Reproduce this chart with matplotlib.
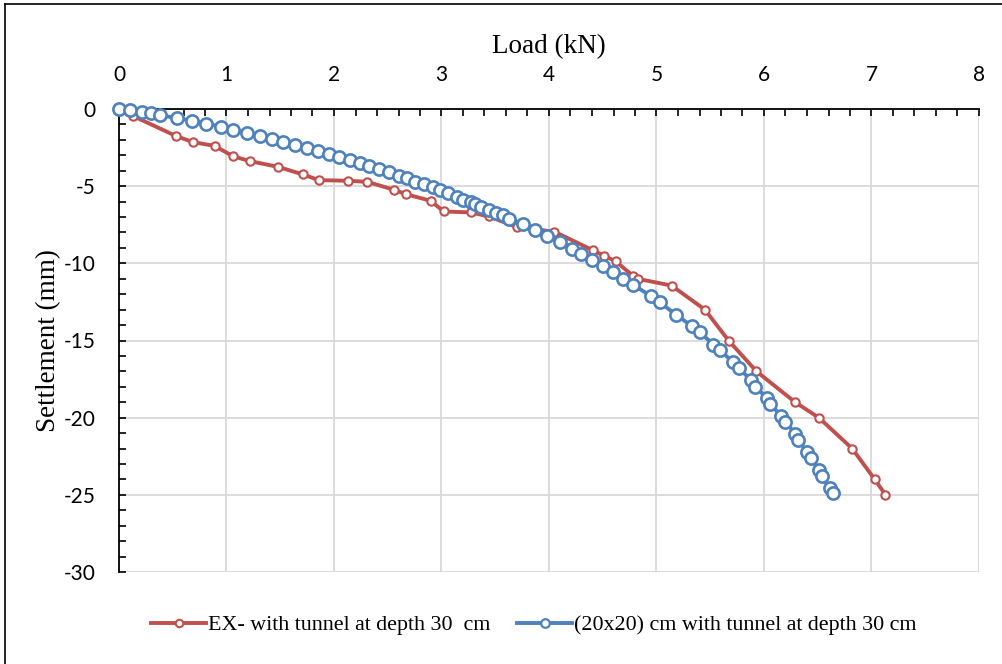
import numpy as np
import matplotlib
matplotlib.use("Agg")
import matplotlib.pyplot as plt
from matplotlib.lines import Line2D
from matplotlib.ticker import MultipleLocator

plt.rcParams['axes.unicode_minus'] = False

# EX- with tunnel at depth 30 cm
red_load = [0, 0.13, 0.53, 0.69, 0.89, 1.06, 1.22, 1.48, 1.71, 1.86, 2.13, 2.31,
            2.56, 2.67, 2.90, 3.02, 3.27, 3.44, 3.70, 4.05, 4.41, 4.51, 4.62,
            4.78, 4.83, 5.14, 5.45, 5.67, 5.93, 6.29, 6.51, 6.82, 7.03, 7.13]
red_settle = [0, -0.45, -1.75, -2.15, -2.39, -3.06, -3.38, -3.75, -4.24, -4.61,
              -4.65, -4.72, -5.24, -5.52, -5.95, -6.64, -6.70, -6.96, -7.65,
              -7.95, -9.16, -9.50, -9.87, -10.80, -11.01, -11.44, -13.0, -15.0,
              -17.0, -19.0, -20.0, -22.0, -24.0, -25.0]

# (20x20) cm with tunnel at depth 30 cm
blue_load = [0, 0.10, 0.21, 0.30, 0.38, 0.54, 0.68, 0.81, 0.95, 1.06, 1.19, 1.31,
             1.42, 1.53, 1.64, 1.75, 1.85, 1.95, 2.05, 2.15, 2.24, 2.33, 2.42,
             2.51, 2.60, 2.68, 2.75, 2.84, 2.92, 2.99, 3.06, 3.14, 3.20, 3.27,
             3.31, 3.37, 3.44, 3.51, 3.57, 3.63, 3.76, 3.87, 3.98, 4.10, 4.21,
             4.30, 4.40, 4.50, 4.60, 4.69, 4.78, 4.95, 5.03, 5.18, 5.33, 5.40,
             5.53, 5.59, 5.71, 5.77, 5.88, 5.92, 6.03, 6.06, 6.16, 6.20, 6.29,
             6.32, 6.40, 6.44, 6.51, 6.54, 6.61, 6.64]
blue_settle = [0, -0.07, -0.17, -0.28, -0.39, -0.60, -0.75, -0.95, -1.14, -1.36,
               -1.55, -1.77, -1.96, -2.15, -2.35, -2.54, -2.73, -2.91, -3.10,
               -3.30, -3.47, -3.68, -3.90, -4.09, -4.31, -4.48, -4.70, -4.87,
               -5.08, -5.28, -5.47, -5.71, -5.88, -6.05, -6.16, -6.35, -6.53,
               -6.74, -6.90, -7.13, -7.43, -7.87, -8.25, -8.64, -9.05, -9.39,
               -9.80, -10.19, -10.58, -10.99, -11.38, -12.13, -12.52, -13.32,
               -14.07, -14.46, -15.26, -15.62, -16.40, -16.81, -17.58, -17.99,
               -18.75, -19.13, -19.89, -20.28, -21.03, -21.46, -22.22, -22.63,
               -23.38, -23.81, -24.58, -24.89]

red_name = "EX- with tunnel at depth 30  cm"
blue_name = "(20x20) cm with tunnel at depth 30 cm"

RED = "#C0504D"
BLUE = "#4F81BD"
GRID = "#D9D9D9"
tick_font = "Lato"
title_font = "Liberation Serif"

fig = plt.figure(figsize=(10.03, 6.64), dpi=100)
ax = fig.add_axes([119 / 1003, 1 - 572 / 664, 860 / 1003, 463 / 664])

ax.plot(red_load, red_settle, color=RED, lw=2.8, marker="o", ms=6.0,
        mfc="white", mec=RED, mew=1.5, clip_on=False, zorder=3)
ax.plot(blue_load, blue_settle, color=BLUE, lw=2.8, marker="o", ms=8.8,
        mfc="white", mec=BLUE, mew=1.9, clip_on=False, zorder=4)

ax.set_xlim(0, 8)
ax.set_ylim(-30, 0)
ax.xaxis.set_major_locator(MultipleLocator(1))
ax.xaxis.set_minor_locator(MultipleLocator(0.2))
ax.yaxis.set_major_locator(MultipleLocator(5))
ax.yaxis.set_minor_locator(MultipleLocator(1))
ax.xaxis.tick_top()
ax.xaxis.set_label_position("top")

ax.grid(True, which="major", color=GRID, lw=1.3, zorder=0)
ax.set_axisbelow(True)
for s in ["right", "bottom"]:
    ax.spines[s].set_visible(False)
for s in ["top", "left"]:
    ax.spines[s].set_linewidth(1.3)
    ax.spines[s].set_zorder(2.5)

ax.tick_params(which="both", direction="in", length=5, width=1.2, color="black")
ax.tick_params(axis="x", which="both", top=True, bottom=False)
ax.tick_params(axis="both", which="major", labelsize=15, pad=17)
for lab in ax.get_xticklabels() + ax.get_yticklabels():
    lab.set_fontfamily(tick_font)

ax.set_xlabel("Load (kN)", fontsize=19.5, family=title_font, labelpad=9)
ax.set_ylabel("Settlement (mm)", fontsize=19.5, family=title_font, labelpad=2)

handles = [
    Line2D([], [], color=RED, lw=2.8, marker="o", ms=5.4, mfc="white", mec=RED, mew=1.5),
    Line2D([], [], color=BLUE, lw=2.8, marker="o", ms=6.2, mfc="white", mec=BLUE, mew=1.6),
]
fig.legend(handles, [red_name, blue_name], loc="center", ncol=2,
           bbox_to_anchor=(534 / 1003, 1 - 625 / 664), frameon=False,
           prop={"family": title_font, "size": 15.8}, handlelength=2.5,
           columnspacing=1.2, handletextpad=0.1)

# outer chart frame (left and top edges visible)
fig.add_artist(Line2D([5 / 1003, 5 / 1003], [0, 1 - 4 / 664], color="black", lw=1.2,
                      transform=fig.transFigure))
fig.add_artist(Line2D([5 / 1003, 1], [1 - 4 / 664, 1 - 4 / 664], color="black", lw=1.2,
                      transform=fig.transFigure))

fig.savefig("out.png", dpi=100)
